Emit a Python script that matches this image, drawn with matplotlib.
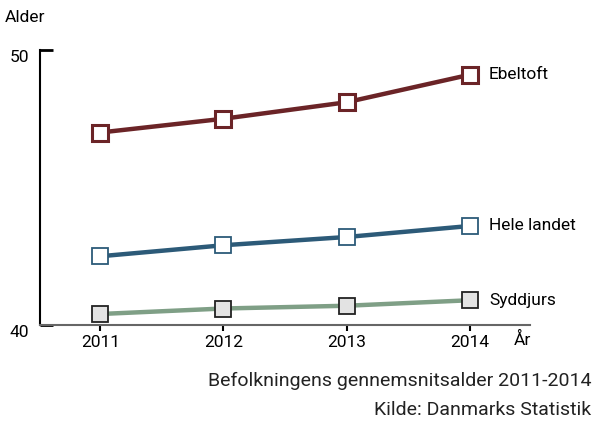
import matplotlib
matplotlib.use("Agg")
import matplotlib.pyplot as plt

plt.rcParams['font.family'] = ['Roboto', 'DejaVu Sans']

# Data
years = [2011, 2012, 2013, 2014]
ebeltoft = [47.0, 47.5, 48.1, 49.1]
hele_landet = [42.5, 42.9, 43.2, 43.6]
syddjurs = [40.4, 40.6, 40.7, 40.9]

series = [
    ("Ebeltoft", ebeltoft, "#6b2427", "white", "#6b2427", 2.2),
    ("Hele landet", hele_landet, "#2c5a78", "white", "#2c5a78", 1.3),
    ("Syddjurs", syddjurs, "#7f9f86", "#e3e3e3", "#222222", 1.3),
]

fig = plt.figure(figsize=(5.95, 4.21), dpi=100)
ax = fig.add_axes([40/595, 1-325/421, 490/595, 275/421])

for name, vals, col, face, edge, mew in series:
    ax.plot(years, vals, color=col, lw=3.2, marker='s', markersize=11,
            markerfacecolor=face, markeredgecolor=edge, markeredgewidth=mew,
            solid_capstyle='butt', zorder=3, clip_on=False)
    ax.annotate(name, (years[-1], vals[-1]), xytext=(14, 0),
                textcoords='offset points', va='center', ha='left', fontsize=12.5)

ax.set_xlim(2010.51, 2014.49)
ax.set_ylim(40, 50)
ax.set_xticks(years)
ax.set_yticks([40, 50])
ax.tick_params(axis='y', direction='in', length=9, width=2, labelsize=12.5, pad=8)
ax.tick_params(axis='x', direction='out', length=4, width=1.5, labelsize=12.5, pad=3)
for lab in ax.get_yticklabels():
    lab.set_va('top')

for s in ['top', 'right']:
    ax.spines[s].set_visible(False)
ax.spines['left'].set_linewidth(1.5)
ax.spines['bottom'].set_color('#666666')
ax.spines['bottom'].set_linewidth(1.5)

fig.text(5/595, 1-18/421, "Alder", fontsize=12.5, va='center', ha='left')
fig.text(514/595, 1-340/421, "År", fontsize=12.5, va='center', ha='left')
fig.text(591/595, 1-381/421, "Befolkningens gennemsnitsalder 2011-2014",
         fontsize=14, va='center', ha='right', color='#222222')
fig.text(591/595, 1-410/421, "Kilde: Danmarks Statistik",
         fontsize=14, va='center', ha='right', color='#222222')

fig.savefig("out.png", dpi=100)
